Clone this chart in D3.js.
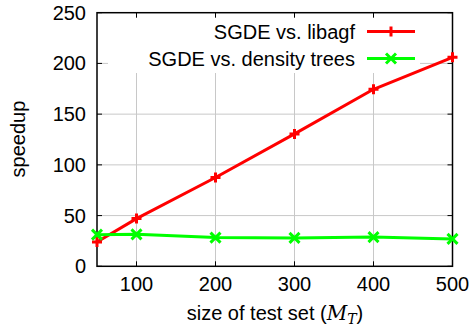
<!DOCTYPE html>
<meta charset="utf-8">
<style>
body { margin:0; background:#fff; }
text { font-family:"Liberation Sans", Arial, sans-serif; font-size:20px; fill:#000; }
.grid line { stroke:#c8c8c8; stroke-width:1; }
.tick line { stroke:#000; }
</style>
<body>
<script src="https://d3js.org/d3.v7.min.js"></script>
<script>

var sizes = [50, 100, 200, 300, 400, 500];
var libagf = [24, 47, 87.5, 130.5, 174.5, 206];
var densityTrees = [31.2, 31.5, 28.3, 28, 28.8, 27];
var seriesNames = ["SGDE vs. libagf", "SGDE vs. density trees"];
var xTicks = [100, 200, 300, 400, 500];
var yTicks = [0, 50, 100, 150, 200, 250];

var W = 475, H = 328;
var m = {left:97, right:22.5, top:12.7, bottom:61.7};

var svg = d3.select("body").append("svg").attr("width", W).attr("height", H);

var x = d3.scaleLinear().domain([50, 500]).range([m.left, W - m.right]);
var y = d3.scaleLinear().domain([0, 250]).range([H - m.bottom, m.top]);

// grid
var grid = svg.append("g").attr("class","grid");
grid.selectAll(".gx").data(xTicks.filter(d=>d<500)).enter().append("line")
	.attr("x1",d=>x(d)).attr("x2",d=>x(d)).attr("y1",y(0)).attr("y2",y(250));
grid.selectAll(".gy").data(yTicks.filter(d=>d>0 && d<250)).enter().append("line")
	.attr("y1",d=>y(d)).attr("y2",d=>y(d)).attr("x1",x(50)).attr("x2",x(500));

// legend box (opaque)
svg.append("rect").attr("x",108).attr("y",15).attr("width",312).attr("height",58).attr("fill","#fff");

// ticks on all sides
var tl = 5;
svg.selectAll(".tx").data(xTicks).enter().append("g").attr("class","tick").each(function(d){
	var s = d3.select(this);
	s.append("line").attr("x1",x(d)).attr("x2",x(d)).attr("y1",y(0)).attr("y2",y(0)-tl);
	s.append("line").attr("x1",x(d)).attr("x2",x(d)).attr("y1",y(250)).attr("y2",y(250)+tl);
});
svg.selectAll(".ty").data(yTicks).enter().append("g").attr("class","tick").each(function(d){
	var s = d3.select(this);
	s.append("line").attr("x1",x(50)).attr("x2",x(50)+tl).attr("y1",y(d)).attr("y2",y(d));
	s.append("line").attr("x1",x(500)).attr("x2",x(500)-tl).attr("y1",y(d)).attr("y2",y(d));
});

// tick labels
svg.selectAll(".xl").data(xTicks).enter().append("text")
	.attr("x",d=>x(d)).attr("y",y(0)+25).attr("text-anchor","middle").text(d=>d);
svg.selectAll(".yl").data(yTicks).enter().append("text")
	.attr("x",x(50)-11).attr("y",d=>y(d)+7).attr("text-anchor","end").text(d=>d);

// border
svg.append("rect").attr("x",x(50)).attr("y",y(250)).attr("width",x(500)-x(50)).attr("height",y(0)-y(250))
	.attr("fill","none").attr("stroke","#000").attr("stroke-width",1.5);

// axis titles
var xt = svg.append("text").attr("x",275).attr("y",320).attr("text-anchor","middle");
xt.append("tspan").text("size of test set (");
xt.append("tspan").style("font-family","'DejaVu Serif', serif").style("font-style","italic").text("M");
xt.append("tspan").style("font-family","'DejaVu Serif', serif").style("font-style","italic")
	.style("font-size","14px").attr("dy",4).text("T");
xt.append("tspan").attr("dy",-4).text(")");

svg.append("text").attr("transform","translate(25,139) rotate(-90)").attr("text-anchor","middle").text("speedup");

// series
var series = [
	{name:seriesNames[0], vals:libagf, color:"#ff0000", marker:"plus"},
	{name:seriesNames[1], vals:densityTrees, color:"#00ff00", marker:"cross"}
];
var line = d3.line().x((d,i)=>x(sizes[i])).y(d=>y(d));

function marker(g, cx, cy, type, color){
	var r = 5;
	var p = type=="plus"
		? "M"+(cx-r)+","+cy+"H"+(cx+r)+"M"+cx+","+(cy-r)+"V"+(cy+r)
		: "M"+(cx-r)+","+(cy-r)+"L"+(cx+r)+","+(cy+r)+"M"+(cx-r)+","+(cy+r)+"L"+(cx+r)+","+(cy-r);
	g.append("path").attr("d",p).attr("stroke",color).attr("stroke-width",3).attr("fill","none");
}

series.forEach(function(s, k){
	var g = svg.append("g");
	g.append("path").datum(s.vals).attr("d",line).attr("fill","none")
		.attr("stroke",s.color).attr("stroke-width",3).attr("stroke-linejoin","round");
	s.vals.forEach(function(v,i){ marker(g, x(sizes[i]), y(v), s.marker, s.color); });

	var ly = 31.5 + k*27;
	svg.append("text").attr("x",355).attr("y",ly+7).attr("text-anchor","end").text(s.name);
	svg.append("line").attr("x1",367).attr("x2",415).attr("y1",ly).attr("y2",ly)
		.attr("stroke",s.color).attr("stroke-width",3);
	marker(svg, 391, ly, s.marker, s.color);
});

</script>
</body>
